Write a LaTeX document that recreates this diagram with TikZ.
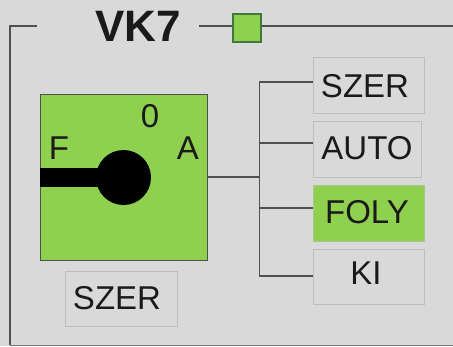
\documentclass[tikz,border=0pt]{standalone}
\usepackage{fontspec}
\setmainfont{Liberation Sans}
\definecolor{bgc}{HTML}{D9D9D9}
\definecolor{grn}{HTML}{8FD14F}
\definecolor{ln}{HTML}{505050}
\definecolor{bx}{HTML}{BDBDBD}
\definecolor{txt}{HTML}{1A1A1A}
\tikzset{
  wire/.style={draw=ln,line width=1.5pt},
  frameline/.style={draw=ln,line width=1.5pt},
  lab/.style={inner sep=0pt,text=txt,font=\fontsize{33}{33}\selectfont},
  selbox/.style={draw=bx,line width=1.5pt,inner sep=0pt,anchor=north west},
  greenbox/.style={draw=#1,fill=grn,line width=1.5pt,inner sep=0pt,anchor=north west},
}
\begin{document}
\begin{tikzpicture}[x=1pt,y=-1pt]
\useasboundingbox[fill=bgc] (0,0) rectangle (453,346);
% frame
\coordinate (fa) at (37,26);
\coordinate (fb) at (10,26);
\coordinate (fc) at (10,345);
\coordinate (fd) at (453,345);
\coordinate (fe) at (199,26);
\coordinate (ff) at (453,26);
\draw[frameline,line join=miter] (fa) -- (fb) -- (fc);
\draw[draw=ln!70!bgc,line width=1pt] (fc) -- (fd);
\node[inner sep=0pt,text=txt,font=\fontsize{44}{44}\selectfont\bfseries] (title) at (138,26.5) {VK7};
\node[greenbox=green!30!black!75,minimum width=28pt,minimum height=28pt] (sq) at (232,13) {};
\draw[frameline] (fe) -- (sq.west |- fe);
\draw[frameline] (sq.east |- ff) -- (ff);
% switch
\node[greenbox=ln,minimum width=167pt,minimum height=166pt] (sw) at (39.5,93.5) {};
\node[lab] (l0) at (150,116) {0};
\node[lab] (lF) at (59,148) {F};
\node[lab] (lA) at (188,148) {A};
\fill[black] (40,168) rectangle (105,186.5);
\node[circle,fill=black,inner sep=0pt,minimum size=55pt] (knob) at (123.5,177.5) {};
% option boxes
\node[selbox,minimum width=111pt,minimum height=56pt] (b1) at (312.5,56.5) {};
\node[lab] (t1) at (365,86) {SZER};
\node[selbox,minimum width=108pt,minimum height=56pt] (b2) at (312.5,120.5) {};
\node[lab] (t2) at (367,148.5) {AUTO};
\node[selbox,draw=bx!60!grn,fill=grn,minimum width=111pt,minimum height=56pt] (b3) at (312.5,184.5) {};
\node[lab] (t3) at (367,212) {FOLY};
\node[selbox,minimum width=111pt,minimum height=55pt] (b4) at (312.5,248.5) {};
\node[lab] (t4) at (366,273) {KI};
\node[selbox,minimum width=112pt,minimum height=55pt] (b5) at (64.5,270.5) {};
\node[lab] (t5) at (117,298) {SZER};
% connectors
\coordinate (j0) at (259.5,177);
\coordinate (j1) at (259.5,82);
\coordinate (j2) at (259.5,143);
\coordinate (j3) at (259.5,208);
\coordinate (j4) at (259.5,276);
\draw[wire] (sw.east |- j0) -- (j0);
\draw[wire,line join=miter] (b1.west |- j1) -- (j1) -- (j4) -- (b4.west |- j4);
\draw[wire] (j2) -- (b2.west |- j2);
\draw[wire] (j3) -- (b3.west |- j3);
\end{tikzpicture}
\end{document}
